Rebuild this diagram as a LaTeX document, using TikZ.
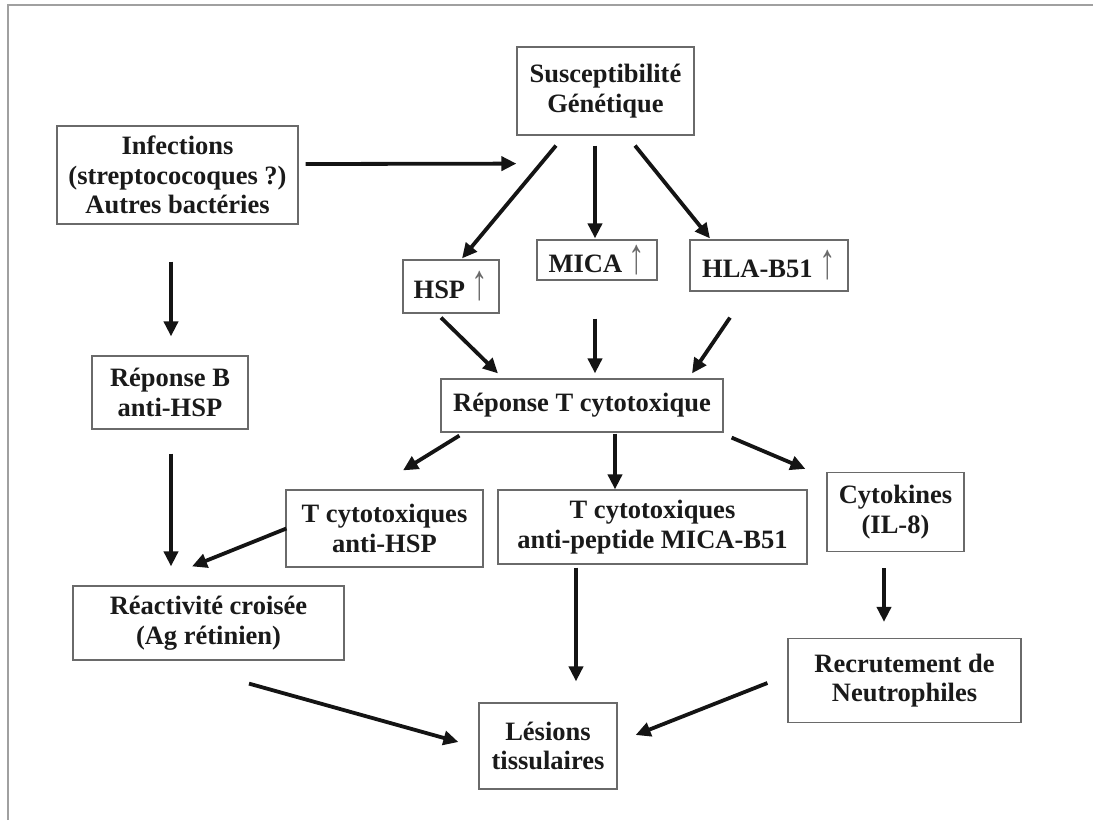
\documentclass[tikz,border=0pt]{standalone}
\usepackage{fontspec}
\usepackage{graphicx}
\setmainfont{Liberation Serif}
\newfontfamily\arrowfont{Liberation Serif}
\usetikzlibrary{arrows.meta,calc}
\definecolor{boxline}{HTML}{6A6A6A}
\definecolor{txt}{HTML}{1A1A1A}
\definecolor{framec}{HTML}{A0A0A0}
\newcommand{\upar}{\raisebox{-1pt}{\scalebox{1.25}[1.9]{\mdseries\arrowfont\color{txt!65}\char"2191}}}
\begin{document}
\begin{tikzpicture}[x=1pt,y=-1pt,
  box/.style={draw=boxline,line width=1.2pt,align=center,inner sep=0pt,
    text=txt,font=\fontsize{26.5}{29.5}\selectfont\bfseries},
  arr/.style={line width=3.8pt,draw=black!92,
    -{Triangle[length=15pt,width=14pt]}}]
\useasboundingbox (0,0) rectangle (1093,820);
\draw[framec,line width=1.6pt] (8,820) -- (8,5) -- (1093,5);

\node[box,minimum width=177pt,minimum height=88pt] (sus) at (605.5,91) {Susceptibilité\\Génétique};
\node[box,minimum width=241pt,minimum height=98pt] (inf) at (177.5,175) {Infections\\(streptococoques ?)\\Autres bactéries};
\node[box,minimum width=96pt,minimum height=53pt] (hsp) at (451,286.5) {HSP \upar};
\node[box,minimum width=120pt,minimum height=40pt] (mica) at (597,260) {MICA \upar};
\node[box,minimum width=158pt,minimum height=51pt] (hla) at (769,265.5) {HLA-B51 \upar};
\node[box,minimum width=156pt,minimum height=73pt] (repB) at (170,392.5) {Réponse B\\anti-HSP};
\node[box,minimum width=282pt,minimum height=53pt] (repT) at (582,405.5) {Réponse T cytotoxique};
\node[box,minimum width=197pt,minimum height=77pt] (tahsp) at (384.5,528.5) {T cytotoxiques\\anti-HSP};
\node[box,minimum width=309pt,minimum height=74pt] (tmica) at (652.5,527) {T cytotoxiques\\anti-peptide MICA-B51};
\node[box,minimum width=137pt,minimum height=79pt] (cyto) at (895.5,512) {Cytokines\\(IL-8)};
\node[box,minimum width=233pt,minimum height=84pt] (recr) at (904.5,680.5) {Recrutement de\\Neutrophiles};
\node[box,minimum width=138pt,minimum height=86pt] (les) at (548,746) {Lésions\\tissulaires};
\node[box,minimum width=271pt,minimum height=74pt] (reac) at (208.5,623) {Réactivité croisée\\(Ag rétinien)};

\draw[arr] ($(inf.east)+(7,-11)$) -- ($(sus.south west)+(0,28)$);
\draw[arr] ($(sus.south)+(-49.5,10)$) -- ($(hsp.north)+(11,-1)$);
\draw[arr] ($(sus.south)+(-10.5,10)$) -- ($(mica.north)+(-2,-1)$);
\draw[arr] ($(sus.south)+(29.5,10)$) -- ($(hla.north)+(-59,-1)$);
\draw[arr] ($(inf.south)+(-6.5,37)$) -- ($(repB.north)+(1,-19)$);
\draw[arr] ($(hsp.south)+(-10,4)$) -- ($(repT.north)+(-84,-5)$);
\draw[arr] ($(mica.south)+(-2,38)$) -- ($(repT.north)+(13,-5)$);
\draw[arr] ($(hla.south)+(-39,26)$) -- ($(repT.north)+(110,-5)$);
\draw[arr] ($(repB.south)+(1,24)$) -- ($(reac.north)+(-37.5,-19)$);
\draw[arr] ($(tahsp.west)+(1,0)$) -- ($(reac.north)+(-16.5,-19)$);
\draw[arr] ($(repT.south west)+(19,3)$) -- ($(tahsp.north)+(18.5,-19)$);
\draw[arr] ($(repT.south)+(33,1)$) -- ($(tmica.north)+(-37.5,0)$);
\draw[arr] ($(repT.south east)+(8,5)$) -- ($(cyto.north west)+(-21,-3)$);
\draw[arr] ($(cyto.south)+(-11.5,16)$) -- ($(recr.north)+(-20.5,-16)$);
\draw[arr] ($(tmica.south)+(-76.5,3)$) -- ($(les.north)+(28,-21)$);
\draw[arr] ($(reac.south)+(40.5,23)$) -- ($(les.west)+(-20,-4)$);
\draw[arr] ($(recr.west)+(-20,2.5)$) -- ($(les.east)+(18,-11)$);
\end{tikzpicture}
\end{document}
